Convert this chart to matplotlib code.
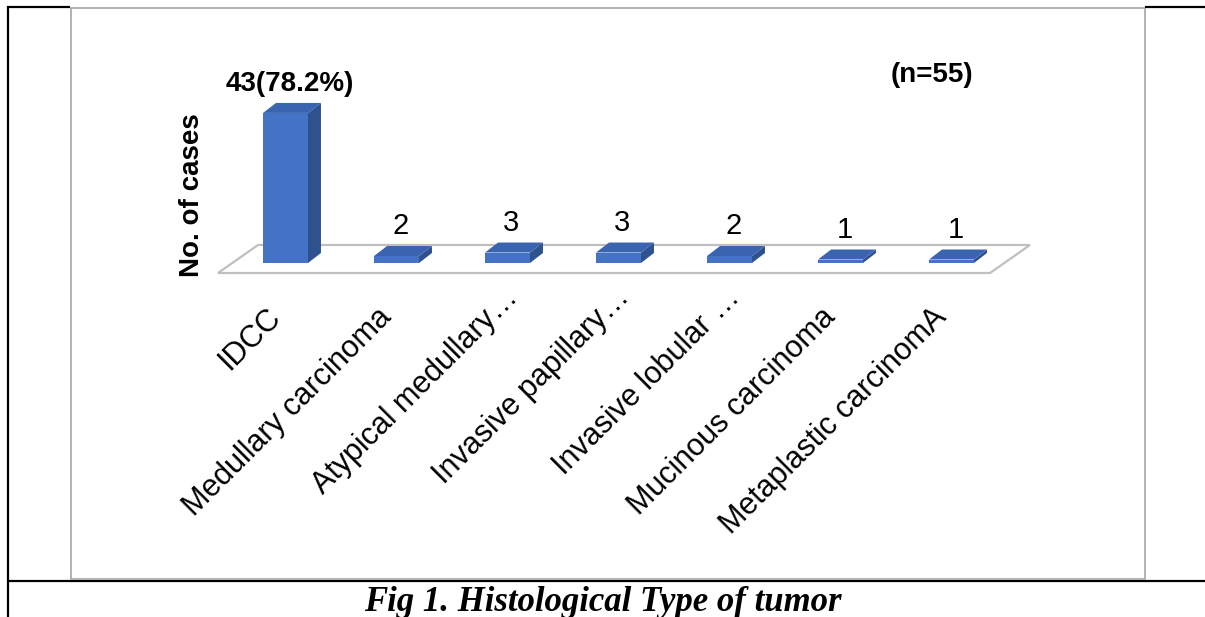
import matplotlib
matplotlib.use("Agg")
import matplotlib.pyplot as plt
from matplotlib.patches import Polygon, Rectangle

# ---------------- data ----------------
categories = ["IDCC", "Medullary carcinoma", "Atypical medullary\u2026",
              "Invasive papillary\u2026", "Invasive lobular \u2026",
              "Mucinous carcinoma", "Metaplastic carcinomA"]
cases = [43, 2, 3, 3, 2, 1, 1]
value_labels = ["43(78.2%)", "2", "3", "3", "2", "1", "1"]
y_title = "No. of cases"
n_note = "(n=55)"
caption = "Fig 1. Histological Type of tumor"

# ---------------- figure ----------------
W, H = 1205, 617
fig = plt.figure(figsize=(W / 100, H / 100), dpi=100)
fig.patch.set_facecolor("white")

# pixel geometry of the chart scale
X0, XS = 285.5, 111.0      # px of category 0, px per category
Y0, YS = 263.0, 3.49       # px (from top) of value 0, px per case

ax = fig.add_axes([0, 0, 1, 1])
ax.set_xlim(-X0 / XS, (W - X0) / XS)
ax.set_ylim((Y0 - H) / YS, Y0 / YS)
ax.axis("off")

# overlay in pixel coordinates for frame & free text
ov = fig.add_axes([0, 0, 1, 1], facecolor="none")
ov.set_xlim(0, W)
ov.set_ylim(H, 0)
ov.axis("off")

SANS = ["Liberation Sans", "DejaVu Sans"]

# floor
fl_x0, fl_x1 = -0.608, 6.347
fl_y0 = -2.87
fl_dx, fl_dy = 0.36, 8.03
floor = Polygon([(fl_x0, fl_y0), (fl_x1, fl_y0), (fl_x1 + fl_dx, fl_y0 + fl_dy),
                 (fl_x0 + fl_dx, fl_y0 + fl_dy)], closed=True,
                facecolor="white", edgecolor="#BFBFBF", linewidth=1.6, zorder=1)
ax.add_patch(floor)

# 3D bars
w = 0.405
ddx, ddy = 13 / XS, 10 / YS
c_front, c_side, c_top = "#4472C4", "#2F528F", "#3A63B0"
for i, v in enumerate(cases):
    l, r = i - w / 2, i + w / 2
    ax.add_patch(Polygon([(r, 0), (r + ddx, ddy), (r + ddx, v + ddy), (r, v)],
                         closed=True, facecolor=c_side, edgecolor="none", zorder=2))
    ax.add_patch(Polygon([(l, v), (r, v), (r + ddx, v + ddy), (l + ddx, v + ddy)],
                         closed=True, facecolor=c_top, edgecolor="none", zorder=2))
    ax.add_patch(Rectangle((l, 0), w, v, facecolor=c_front, edgecolor="none", zorder=3))

# value labels
for i, (v, lab) in enumerate(zip(cases, value_labels)):
    bold = i == 0
    ax.text(i + 0.036, v + 6.3, lab, ha="center", va="baseline",
            fontsize=20 if bold else 21, fontweight="bold" if bold else "normal",
            family=SANS, color="black", zorder=4)

# category labels (rotated 45)
for i, lab in enumerate(categories):
    if lab.endswith("\u2026"):
        x, y = i + 0.108, -10.3
    else:
        x, y = i - 0.036, -15.8
    ax.text(x, y, lab, rotation=45, rotation_mode="anchor",
            ha="right", va="baseline", fontsize=22, family=SANS, color="black")

# axis title & note
ov.text(192, 195, y_title, rotation=90, ha="center", va="center",
        fontsize=20, fontweight="bold", family=SANS)
ov.text(932, 75, n_note, ha="center", va="center",
        fontsize=20, fontweight="bold", family=SANS)

# caption
ov.text(603, 611, caption, ha="center", va="baseline", fontsize=25,
        fontweight="bold", fontstyle="italic",
        family=["Liberation Serif", "DejaVu Serif"])

# frame lines
blk = dict(color="black", linewidth=1.6, solid_capstyle="butt")
gry = dict(color="#A6A6A6", linewidth=1.2, solid_capstyle="butt")
ov.plot([7, 70], [7, 7], **blk)
ov.plot([1145, W], [7, 7], **blk)
ov.plot([8, 8], [6, H], **blk)
ov.plot([7, W], [581, 581], **blk)
ov.plot([70, 1145], [8, 8], **gry)
ov.plot([70.5, 70.5], [8, 579], **gry)
ov.plot([1145, 1145], [8, 580], **gry)
ov.plot([70, 1145], [579, 579], **gry)

fig.savefig("out.png", dpi=100, facecolor="white")
